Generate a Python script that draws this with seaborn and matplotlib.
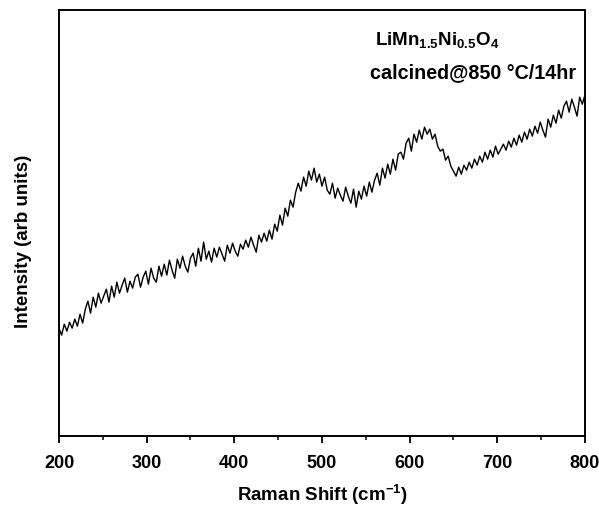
"""Raman spectrum of calcined LiMn1.5Ni0.5O4."""

import matplotlib
matplotlib.use("Agg")
import matplotlib.pyplot as plt
import numpy as np
import pandas as pd
import seaborn as sns

# Raman shift grid (cm^-1), one reading every 3 cm^-1
raman_shift = np.arange(200, 801, 3)

# intensity (arb. units)
intensity = [
    108, 101, 112, 105, 114, 108, 117, 110, 122, 113,
    127, 135, 123, 139, 129, 143, 133, 140, 147, 134,
    150, 139, 154, 143, 151, 158, 144, 155, 148, 159,
    162, 149, 159, 165, 152, 168, 158, 154, 170, 160,
    172, 161, 176, 166, 158, 177, 168, 180, 170, 164,
    178, 183, 170, 188, 175, 194, 177, 185, 174, 188,
    179, 189, 182, 175, 191, 183, 193, 185, 180, 192,
    187, 196, 189, 199, 191, 184, 201, 194, 203, 195,
    206, 197, 212, 205, 221, 211, 228, 220, 236, 229,
    244, 253, 245, 259, 250, 265, 256, 268, 254, 262,
    250, 259, 246, 242, 253, 238, 248, 241, 235, 249,
    240, 233, 247, 229, 245, 237, 250, 240, 254, 244,
    256, 263, 251, 268, 258, 272, 262, 277, 266, 282,
    284, 277, 293, 298, 285, 302, 294, 306, 297, 309,
    302, 307, 297, 302, 290, 285, 287, 276, 280, 270,
    265, 260, 269, 262, 271, 266, 274, 268, 277, 271,
    280, 274, 284, 277, 286, 279, 290, 282, 287, 292,
    286, 295, 289, 298, 291, 301, 294, 304, 297, 307,
    300, 310, 303, 314, 306, 299, 317, 309, 321, 313,
    326, 318, 330, 335, 324, 337, 329, 320, 339, 332,
    341,
]

sample_label = r"LiMn$_{\mathbf{1.5}}$Ni$_{\mathbf{0.5}}$O$_{\mathbf{4}}$"
process_label = "calcined@850 °C/14hr"

sns.set_theme(style="ticks")
plt.rcParams["font.family"] = ["Liberation Sans", "DejaVu Sans"]
plt.rcParams["mathtext.fontset"] = "custom"
plt.rcParams["mathtext.rm"] = "Liberation Sans"
plt.rcParams["mathtext.bf"] = "Liberation Sans:bold"
plt.rcParams["text.color"] = "black"
plt.rcParams["axes.labelcolor"] = "black"
plt.rcParams["xtick.color"] = "black"
plt.rcParams["xtick.labelcolor"] = "black"

df = pd.DataFrame({"shift": raman_shift, "intensity": intensity})

fig = plt.figure(figsize=(5.99, 5.06), dpi=100)
ax = fig.add_axes([0.0985, 0.136, 0.878, 0.842])
sns.lineplot(data=df, x="shift", y="intensity", color="black", linewidth=1.0, ax=ax)

ax.set_xlim(200, 800)
ax.set_ylim(0, 426)
ax.set_xticks(range(200, 801, 100))
ax.set_xticks(range(250, 800, 100), minor=True)
ax.set_yticks([])
ax.tick_params(axis="x", which="major", direction="out", length=5, width=1.3,
               labelsize=13, pad=8)
ax.tick_params(axis="x", which="minor", direction="out", length=3, width=1.1)
for label in ax.get_xticklabels():
    label.set_fontweight("bold")
for spine in ax.spines.values():
    spine.set_visible(True)
    spine.set_linewidth(1.4)
    spine.set_color("black")

ax.set_xlabel(r"Raman Shift (cm$^{\mathbf{-1}}$)", fontsize=13.5, fontweight="bold", labelpad=7)
ax.set_ylabel("Intensity (arb units)", fontsize=13.5, fontweight="bold")
ax.yaxis.set_label_coords(-0.052, 0.46)

ax.text(0.6, 0.93, sample_label, transform=ax.transAxes, fontsize=13.5,
        fontweight="bold", ha="left", va="center")
ax.text(0.592, 0.855, process_label, transform=ax.transAxes, fontsize=14.2,
        fontweight="bold", ha="left", va="center")

fig.savefig("out.png", dpi=100)
